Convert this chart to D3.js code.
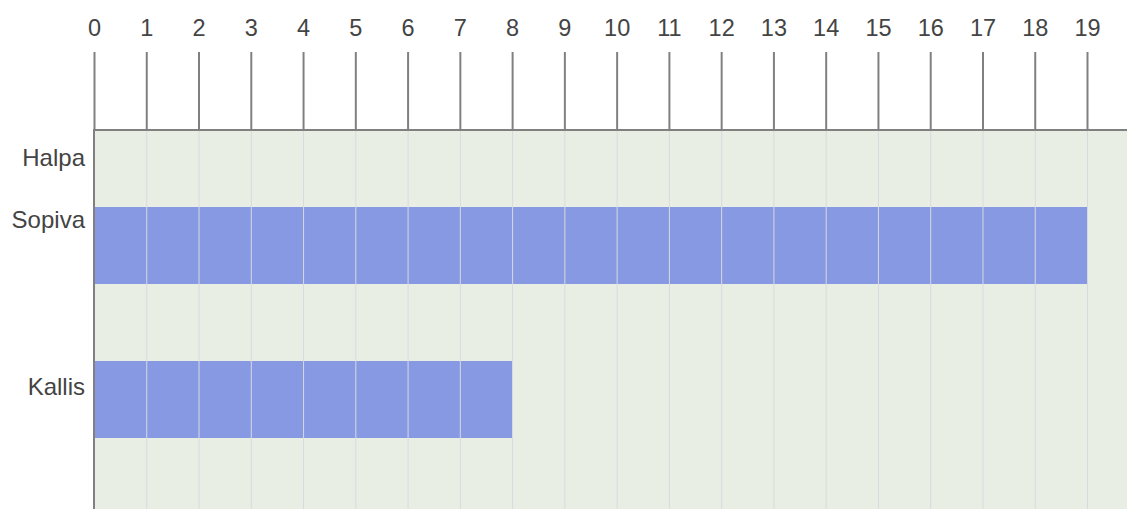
<!DOCTYPE html>
<html>
<head>
<meta charset="utf-8">
<script src="https://cdn.jsdelivr.net/npm/d3@7"></script>
<style>
  body { margin: 0; background: #fff; }
  svg { display: block; font-family: "Liberation Sans", Arial, sans-serif; }
</style>
</head>
<body>
<svg id="chart" width="1127" height="509"></svg>
<script>
// data
const categories = ['Halpa', 'Sopiva', '', 'Kallis', '']
const values = [0, 19, 0, 8, 0]
const ticks = d3.range(0, 20)

// label nudges (the original places row labels a bit oddly)
const labelShift = { Halpa: -11, Sopiva: -26, Kallis: -13 }

const width = 1127
const height = 509
const plotLeft = 94
const plotTop = 130
const axisTop = 52

const svg = d3.select('#chart')

const x = d3.scaleLinear().domain([0, 19]).range([plotLeft, 1087])
const y = d3.scaleBand().domain(d3.range(categories.length)).range([plotTop, plotTop + 77 * 5]).padding(0)

// plot background
svg.append('rect')
  .attr('x', plotLeft)
  .attr('y', plotTop)
  .attr('width', width - plotLeft)
  .attr('height', height - plotTop)
  .attr('fill', '#e9eee5')

// bars
svg.selectAll('.bar')
  .data(values.map((v, i) => ({ v, i })).filter(d => d.v > 0))
  .enter()
  .append('rect')
  .attr('class', 'bar')
  .attr('x', x(0))
  .attr('y', d => y(d.i))
  .attr('width', d => x(d.v) - x(0))
  .attr('height', y.bandwidth())
  .attr('fill', '#8799e3')

// grid lines, drawn over the bars
svg.selectAll('.grid')
  .data(ticks.slice(1))
  .enter()
  .append('line')
  .attr('class', 'grid')
  .attr('x1', d => x(d) + 0.5)
  .attr('x2', d => x(d) + 0.5)
  .attr('y1', plotTop)
  .attr('y2', height)
  .attr('stroke', '#d8d9df')
  .attr('stroke-width', 1)

// top axis
const xAxis = svg.append('g')
  .attr('transform', 'translate(0,' + plotTop + ')')
  .call(d3.axisTop(x).tickValues(ticks).tickSize(plotTop - axisTop).tickPadding(16).tickFormat(d3.format('d')))

xAxis.select('.domain').remove()
xAxis.selectAll('.tick line').attr('stroke', '#808080').attr('stroke-width', 2)
xAxis.selectAll('.tick text').attr('fill', '#444').style('font-size', '23.5px')

svg.append('line')
  .attr('x1', plotLeft - 1).attr('x2', width)
  .attr('y1', plotTop).attr('y2', plotTop)
  .attr('stroke', '#808080').attr('stroke-width', 2)

svg.append('line')
  .attr('x1', plotLeft).attr('x2', plotLeft)
  .attr('y1', plotTop).attr('y2', height)
  .attr('stroke', '#808080').attr('stroke-width', 2)

// row labels
svg.selectAll('.label')
  .data(categories.map((c, i) => ({ c, i })).filter(d => d.c))
  .enter()
  .append('text')
  .attr('class', 'label')
  .attr('x', plotLeft - 9)
  .attr('y', d => y(d.i) + y.bandwidth() / 2 + labelShift[d.c])
  .attr('dy', '0.35em')
  .attr('text-anchor', 'end')
  .attr('fill', '#444')
  .style('font-size', '24px')
  .text(d => d.c)
</script>
</body>
</html>
